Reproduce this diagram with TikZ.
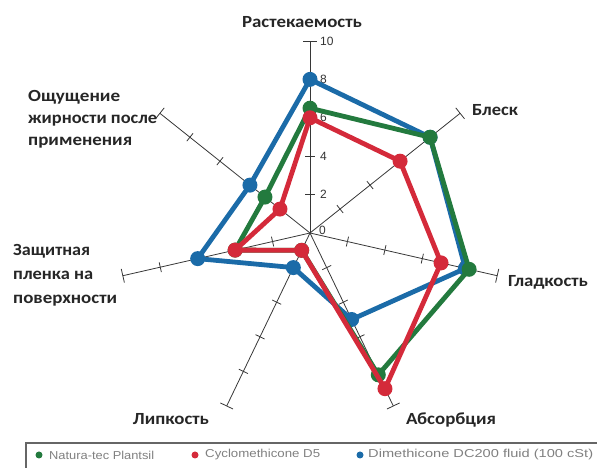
\documentclass[tikz,border=0pt]{standalone}
\usepackage{fontspec}
\usepackage{graphicx}
\setmainfont{Carlito}
\newfontfamily\legendfont{Liberation Sans}
\usetikzlibrary{calc}
\definecolor{cgreen}{RGB}{35,122,62}
\definecolor{cred}{RGB}{212,42,58}
\definecolor{cblue}{RGB}{27,107,168}
\definecolor{axisgray}{RGB}{55,55,55}
\newcommand\fitw[2]{\resizebox{#1}{\height}{#2}}
\begin{document}
\begin{tikzpicture}[x=1pt,y=1pt,
  axisline/.style={draw=axisgray, line width=0.8pt},
  tickmark/.style={draw=axisgray, line width=0.8pt},
  series/.style={line width=4.8pt, line join=round},
  dot/.style={circle, fill=#1, inner sep=0pt, minimum size=15pt},
  axlabel/.style={font=\bfseries\fontsize{17}{19}\selectfont, text=black!85, inner sep=0pt},
  numlabel/.style={font=\legendfont\fontsize{12}{13}\selectfont, inner sep=0pt, anchor=west, text=black!80},
  legdot/.style={circle, fill=#1, inner sep=0pt, minimum size=7pt},
  legtext/.style={font=\legendfont\fontsize{11.5}{13}\selectfont, text=black!50, anchor=west, inner sep=0pt},
]
\useasboundingbox (0,0) rectangle (597,468);
\coordinate (C) at (310,235);
\def\u{19.2}
% axes with ticks
\foreach \k in {0,...,6} {
  \pgfmathsetmacro\ang{90-\k*360/7}
  \pgfmathsetmacro\angp{\ang+90}
  \pgfmathsetmacro\R{10*\u}
  \coordinate (E\k) at ($(C)+(\ang:\R)$);
  \draw[axisline] (C) -- (E\k);
  \foreach \v in {2,4,6,8} {
    \pgfmathsetmacro\rr{\v*\u}
    \coordinate (T\k-\v) at ($(C)+(\ang:\rr)$);
    \draw[tickmark] ($(T\k-\v)+(\angp:5)$) -- ($(T\k-\v)+(\angp:-5)$);
  }
  \draw[tickmark] ($(E\k)+(\angp:7)$) -- ($(E\k)+(\angp:-7)$);
}
% scale numbers on top axis
\node[numlabel] (n0) at ($(C)+(9,3)$) {0};
\node[numlabel] (n2) at ($(T0-2)+(10,0)$) {2};
\node[numlabel] (n4) at ($(T0-4)+(10,0)$) {4};
\node[numlabel] (n6) at ($(T0-6)+(10,0)$) {6};
\node[numlabel] (n8) at ($(T0-8)+(10,0)$) {8};
\node[numlabel] (n10) at ($(E0)+(10,0)$) {10};
% data series: blue, green, red
\foreach \nm/\col/\vals in {b/cblue/{8,8,8.3,5,2,6,4}, g/cgreen/{6.5,8,8.5,8.2,1,4,3}, r/cred/{6,6,7,9,1,4,2}} {
  \foreach \v [count=\k from 0] in \vals {
    \pgfmathsetmacro\ang{90-\k*360/7}
    \pgfmathsetmacro\rr{\v*\u}
    \coordinate (\nm\k) at ($(C)+(\ang:\rr)$);
  }
  \draw[series, draw=\col] (\nm0) -- (\nm1) -- (\nm2) -- (\nm3) -- (\nm4) -- (\nm5) -- (\nm6) -- cycle;
  \foreach \k in {0,...,6} {
    \node[dot=\col] (\nm p\k) at (\nm\k) {};
  }
}
% axis labels
\node[axlabel, anchor=base] (lab0) at (302,440) {\fitw{120pt}{Растекаемость}};
\node[axlabel, anchor=base] (lab1) at (495,352) {\fitw{46pt}{Блеск}};
\node[axlabel, anchor=base] (lab2) at (548,181) {\fitw{80pt}{Гладкость}};
\node[axlabel, anchor=base] (lab3) at (451,43) {\fitw{90pt}{Абсорбция}};
\node[axlabel, anchor=base] (lab4) at (171,43) {\fitw{76pt}{Липкость}};
\node[axlabel, anchor=base west] (lab5a) at (13,212) {\fitw{77pt}{Защитная}};
\node[axlabel, anchor=base west] (lab5b) at (13,188) {\fitw{80pt}{пленка на}};
\node[axlabel, anchor=base west] (lab5c) at (13,164) {\fitw{104pt}{поверхности}};
\node[axlabel, anchor=base west] (lab6a) at (28,366) {\fitw{92pt}{Ощущение}};
\node[axlabel, anchor=base west] (lab6b) at (28,344) {\fitw{129pt}{жирности после}};
\node[axlabel, anchor=base west] (lab6c) at (28,322) {\fitw{104pt}{применения}};
% legend
\draw[draw=black!60, line width=1.3pt] (26,-5) -- (26,25) -- (605,25);
\node[legdot=cgreen] (lg) at (39,13) {};
\node[legtext] (lgt) at (49,13) {\fitw{105pt}{Natura-tec Plantsil}};
\node[legdot=cred] (lr) at (195,13) {};
\node[legtext] (lrt) at (205,13) {\fitw{115pt}{Cyclomethicone D5}};
\node[legdot=cblue] (lb) at (360,13) {};
\node[legtext] (lbt) at (368,13) {\fitw{225pt}{Dimethicone DC200 fluid (100 cSt)}};
\end{tikzpicture}
\end{document}
